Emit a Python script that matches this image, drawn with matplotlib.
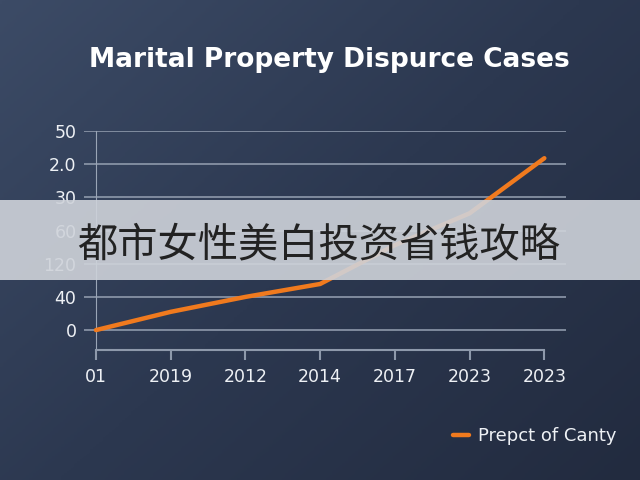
import numpy as np
import matplotlib.pyplot as plt
from matplotlib.colors import LinearSegmentedColormap

# data (y is in grid-slot units, labels are as printed)
years = ['01', '2019', '2012', '2014', '2017', '2023', '2023']
y_labels = ['0', '40', '120', '60', '30', '2.0', '50']
cases = [0.0, 0.55, 1.0, 1.39, 2.56, 3.52, 5.18]

title = 'Marital Property Dispurce Cases'
legend_label = 'Prepct of Canty'
banner_text = '都市女性美白投资省钱攻略'

#%%
fig = plt.figure(figsize=(6.4, 4.8), dpi=100)

# background gradient
bg = fig.add_axes([0, 0, 1, 1], zorder=0)
xx, yy = np.meshgrid(np.linspace(0, 1, 200), np.linspace(0, 1, 200))
grad = 0.55 * xx + 0.45 * yy
cmap = LinearSegmentedColormap.from_list('bg', ['#3c4b66', '#2c3850', '#222b3f'])
bg.imshow(grad, cmap=cmap, aspect='auto', extent=[0, 1, 0, 1], origin='upper')
bg.axis('off')

ax = fig.add_axes([84/640, 130/480, 482/640, 219/480], zorder=1)
ax.patch.set_alpha(0)

x = np.arange(len(years))
ax.plot(x, cases, color='#f07a1e', linewidth=3.2, solid_capstyle='round', zorder=3,
        label=legend_label)

ax.set_xlim(-0.16, 6.29)
ax.set_ylim(-0.6, 6.0)
ax.set_xticks(x)
ax.set_xticklabels(years)
ax.set_yticks(range(len(y_labels)))
ax.set_yticklabels(y_labels)

ax.grid(axis='y', color='#8e99ab', linewidth=1.2)
ax.grid(axis='x', visible=False)

for s in ['top', 'right']:
    ax.spines[s].set_visible(False)
ax.spines['left'].set_position(('data', 0))
ax.spines['left'].set_color('#9aa5b6')
ax.spines['left'].set_linewidth(0.8)
ax.spines['bottom'].set_bounds(0, 6)
ax.spines['bottom'].set_color('#8e99ab')
ax.spines['bottom'].set_linewidth(1.5)

ax.tick_params(axis='x', colors='#8e99ab', length=7, width=1.5, direction='out', pad=6,
               labelcolor='#eef1f5', labelsize=12.5)
ax.tick_params(axis='y', length=0, pad=14, labelcolor='#eef1f5', labelsize=12.5)

fig.text(0.515, 0.875, title, ha='center', va='center', color='white',
         fontsize=19, fontweight='bold')

leg = fig.legend(loc='center', bbox_to_anchor=(0.835, 0.092), frameon=False,
                 handlelength=0.9, handletextpad=0.5, fontsize=13)
for t in leg.get_texts():
    t.set_color('#eef1f5')

# semi transparent banner with chinese caption
band = fig.add_axes([0, 200/480, 1, 80/480], zorder=5)
band.set_facecolor('#cfd3da')
band.patch.set_alpha(0.9)
band.set_xticks([])
band.set_yticks([])
for s in band.spines.values():
    s.set_visible(False)
band.text(0.498, 0.44, banner_text, ha='center', va='center', color='#222222',
          fontsize=29, family=['Noto Sans CJK SC', 'DejaVu Sans'])

fig.savefig('out.png', dpi=100)
